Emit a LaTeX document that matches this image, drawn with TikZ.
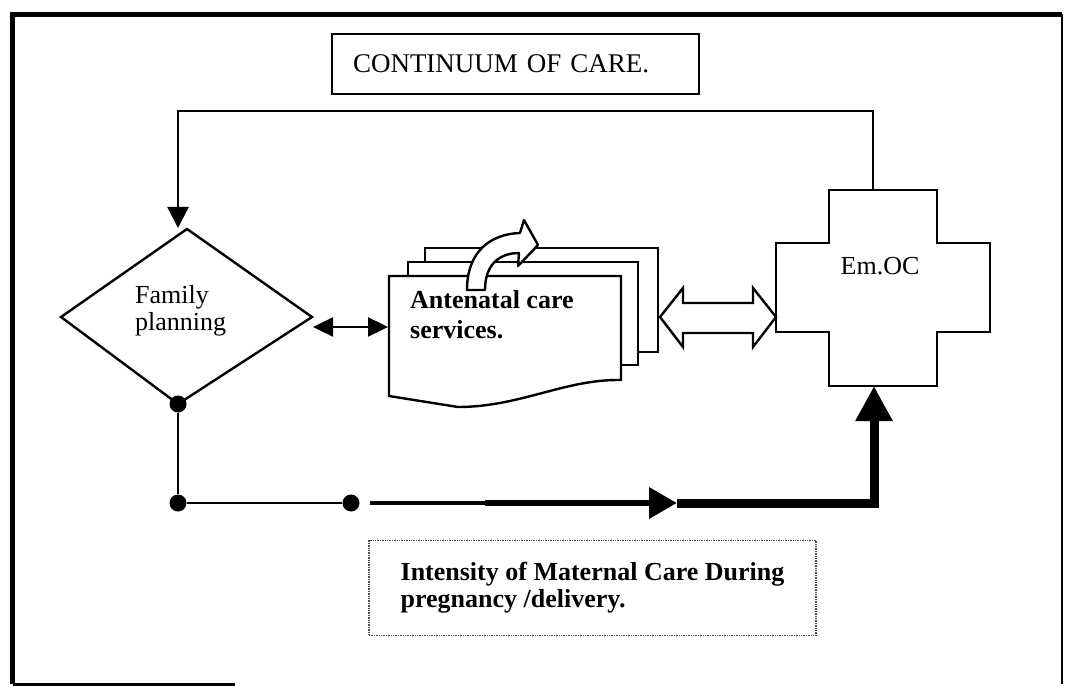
\documentclass[tikz,border=0pt]{standalone}
\usepackage{fontspec}
\setmainfont{Liberation Serif}
\usetikzlibrary{arrows.meta}
\begin{document}
\begin{tikzpicture}[x=1pt,y=-1pt,
  outline/.style={draw=black, line width=2.4pt, line join=miter},
  conn/.style={draw=black, line width=2.4pt},
  dotbox/.style={draw=black!70, densely dotted, line width=1.4pt},
  lbl/.style={inner sep=0pt, font=\fontsize{26}{27}\selectfont},
  blbl/.style={inner sep=0pt, font=\bfseries\fontsize{26}{30}\selectfont},
  bigdot/.style={circle, fill=black, inner sep=0pt, minimum size=17pt},
  tipS/.style={-{Triangle[length=21pt,width=21pt]}},
]
\useasboundingbox (0,0) rectangle (1065,687);
% outer frame
\draw[line width=5pt] (12.5,684) -- (12.5,14.5) -- (1062,14.5);
\draw[line width=2.5pt] (1062,14.5) -- (1062,684);
\draw[line width=3pt] (12.5,684.5) -- (235,684.5);

% title
\node[draw, line width=2pt, minimum height=60pt, text width=325pt, inner xsep=21pt,
      align=left, font=\fontsize{27}{30}\selectfont] (title) at (515.5,64) {CONTINUUM OF CARE.};

% diamond: family planning
\coordinate (dT) at (187,229);
\coordinate (dRt) at (312,317);
\coordinate (dB) at (178,404);
\coordinate (dL) at (61,317);
\draw[outline] (dT) -- (dRt) -- (dB) -- (dL) -- cycle;
\node[lbl, align=left, anchor=north west] (fp) at (135,285) {Family\\planning};

% antenatal multi-document
\draw[outline] (425,262) -- (425,248) -- (658,248) -- (658,352) -- (638,352);
\draw[outline] (408,276) -- (408,262) -- (638,262) -- (638,365) -- (621,365);
\draw[outline, fill=white] (389,276) -- (621,276) -- (621,380)
   .. controls (565,379) and (520,407) .. (458,407) -- (389,396) -- cycle;
\node[blbl, align=left, anchor=north west] (anc) at (410,290) {Antenatal care\\services.};
% curved hollow arrow on the stack
\draw[outline, fill=white, line join=round] (467,290) .. controls (467,252) and (490,234) .. (520,233)
   -- (524,220) -- (538,245) -- (518,266) -- (519,253)
   .. controls (500,253) and (485,264) .. (485,290) -- cycle;

% Em.OC cross
\draw[outline] (829,190) -- (937,190) -- (937,243) -- (990,243) -- (990,332) -- (937,332)
   -- (937,386) -- (829,386) -- (829,332) -- (776,332) -- (776,243) -- (829,243) -- cycle;
\node[lbl, anchor=base] (emoc) at (880,274) {Em.OC};

% hollow double arrow between antenatal and Em.OC
\draw[outline, fill=white] (660,317) -- (683,288) -- (683,303) -- (753,303) -- (753,288)
   -- (776,317) -- (753,347) -- (753,333) -- (683,333) -- (683,347) -- cycle;

% double arrow family planning <-> antenatal
\coordinate (fpR) at (313,327);
\coordinate (ancL) at (388,327);
\draw[conn, {Triangle[length=20pt,width=19pt]}-{Triangle[length=20pt,width=19pt]}] (fpR) -- (ancL);

% feedback loop from Em.OC to family planning
\coordinate (emT) at (873,190);
\coordinate (fbR) at (873,111);
\coordinate (fbL) at (178,111);
\coordinate (fpT) at (178,228);
\draw[conn, tipS] (emT) -- (fbR) -- (fbL) -- (fpT);

% dots and bottom path
\node[bigdot] (p1) at (178,404) {};
\node[bigdot] (p2) at (178,503) {};
\node[bigdot] (p3) at (351,503) {};
\draw[conn] (p1) -- (p2) -- (p3);

% intensity arrow
\coordinate (s0) at (370,503);
\coordinate (s1) at (485,503);
\coordinate (s2) at (677,503);
\coordinate (bc) at (874,503);
\coordinate (emB) at (874,386);
\draw[line width=4pt] (s0) -- (s1);
\draw[line width=6.5pt, -{Triangle[length=28pt,width=30pt]}] (s1) -- (s2);
\draw[line width=9pt, line join=miter, -{Triangle[length=35pt,width=35pt]}] (s2) -- (bc) -- (emB);

% intensity box
\node[dotbox, minimum width=447pt, minimum height=95pt, align=left, inner sep=0pt,
      font=\bfseries\fontsize{26}{27}\selectfont] (intens) at (592.5,588)
      {Intensity of Maternal Care During\\pregnancy /delivery.};
\end{tikzpicture}
\end{document}
